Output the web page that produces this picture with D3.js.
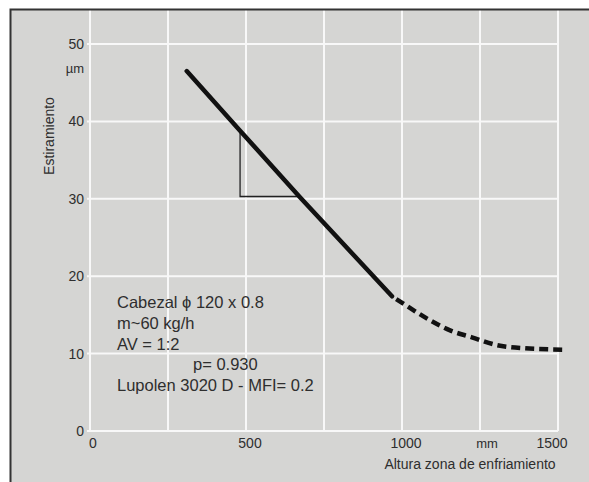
<!DOCTYPE html>
<html>
<head>
<meta charset="utf-8">
<script src="https://cdn.jsdelivr.net/npm/d3@7"></script>
<style>
  body { margin: 0; background: #fff; }
  text { font-family: "Liberation Sans", Arial, sans-serif; fill: #2e2e2e; }
</style>
</head>
<body>
<div class="chart"></div>
<script>
// values
const solidX = [310, 481, 673, 968];
const solidY = [46.5, 38.8, 30.2, 17.4];
const dashX = [968, 1010, 1090, 1154, 1224, 1304, 1388, 1525];
const dashY = [17.4, 16.3, 14.3, 13.0, 12.1, 11.1, 10.7, 10.5];
const triX = [481, 481, 670];
const triY = [38.6, 30.3, 30.3];
const xTicks = [0, 500, 1000, 1500];
const yTicks = [0, 10, 20, 30, 40, 50];
const xGrid = [0, 250, 500, 750, 1000, 1250, 1500];
const notes = ['Cabezal \u03d5 120 x 0.8', 'm~60 kg/h', 'AV = 1:2', 'p= 0.930', 'Lupolen 3020 D - MFI= 0.2'];

const w = 589, h = 482;

const x = d3.scaleLinear().domain([0, 1500]).range([90, 558]);
const y = d3.scaleLinear().domain([0, 50]).range([431, 44]);

const svg = d3.select('.chart')
  .append('svg')
  .attr('width', w)
  .attr('height', h);

// grey paper
svg.append('rect')
  .attr('x', 10).attr('y', 9)
  .attr('width', w - 10).attr('height', h - 9)
  .attr('fill', '#d5d5d3');

// white grid
svg.selectAll('.vgrid')
  .data(xGrid)
  .enter()
  .append('line')
  .attr('class', 'vgrid')
  .attr('x1', d => x(d)).attr('x2', d => x(d))
  .attr('y1', 10).attr('y2', y(0))
  .attr('stroke', '#f8f8f8')
  .attr('stroke-width', 2);

svg.selectAll('.hgrid')
  .data(yTicks)
  .enter()
  .append('line')
  .attr('class', 'hgrid')
  .attr('x1', x(0) - 3).attr('x2', x(1500))
  .attr('y1', d => y(d)).attr('y2', d => y(d))
  .attr('stroke', '#f8f8f8')
  .attr('stroke-width', 2);

// frame (left and top only are visible)
svg.append('path')
  .attr('d', `M10.5,${h} L10.5,9.5 L${w},9.5`)
  .attr('fill', 'none')
  .attr('stroke', '#333')
  .attr('stroke-width', 2);

// tick labels
svg.selectAll('.ylab')
  .data(yTicks)
  .enter()
  .append('text')
  .attr('class', 'ylab')
  .attr('x', 84)
  .attr('y', d => y(d) + 5)
  .attr('text-anchor', 'end')
  .style('font-size', '14px')
  .text(d => d);

svg.append('text')
  .attr('x', 84).attr('y', 73)
  .attr('text-anchor', 'end')
  .style('font-size', '13px')
  .text('\u00b5m');

svg.selectAll('.xlab')
  .data(xTicks)
  .enter()
  .append('text')
  .attr('class', 'xlab')
  .attr('x', d => d === 0 ? x(d) + 3 : (d === 1500 ? x(d) - 6 : x(d) + 4))
  .attr('y', 448)
  .attr('text-anchor', 'middle')
  .style('font-size', '14px')
  .text(d => d);

svg.append('text')
  .attr('x', 487).attr('y', 448)
  .attr('text-anchor', 'middle')
  .style('font-size', '13px')
  .text('mm');

svg.append('text')
  .attr('x', 470).attr('y', 469)
  .attr('text-anchor', 'middle')
  .style('font-size', '14px')
  .text('Altura zona de enfriamiento');

svg.append('text')
  .attr('transform', 'translate(54,136) rotate(-90)')
  .attr('text-anchor', 'middle')
  .style('font-size', '14px')
  .text('Estiramiento');

// notes block
svg.selectAll('.note')
  .data(notes)
  .enter()
  .append('text')
  .attr('class', 'note')
  .attr('x', (d, i) => i === 3 ? 193 : 117)
  .attr('y', (d, i) => 308 + i * 20.8)
  .style('font-size', '16.5px')
  .text(d => d);

// slope triangle
const line = d3.line().x(d => x(d[0])).y(d => y(d[1]));

svg.append('path')
  .attr('d', line(d3.zip(triX, triY)))
  .attr('fill', 'none')
  .attr('stroke', '#222')
  .attr('stroke-width', 1.3);

// measured curve
svg.append('path')
  .attr('d', line(d3.zip(solidX, solidY)))
  .attr('fill', 'none')
  .attr('stroke', '#111')
  .attr('stroke-width', 4.5)
  .attr('stroke-linecap', 'round');

const curve = d3.line().curve(d3.curveMonotoneX).x(d => x(d[0])).y(d => y(d[1]));

svg.append('path')
  .attr('d', curve(d3.zip(dashX, dashY)))
  .attr('fill', 'none')
  .attr('stroke', '#111')
  .attr('stroke-width', 4.5)
  .attr('stroke-dasharray', '9,5')
  .attr('stroke-dashoffset', -5);
</script>
</body>
</html>
